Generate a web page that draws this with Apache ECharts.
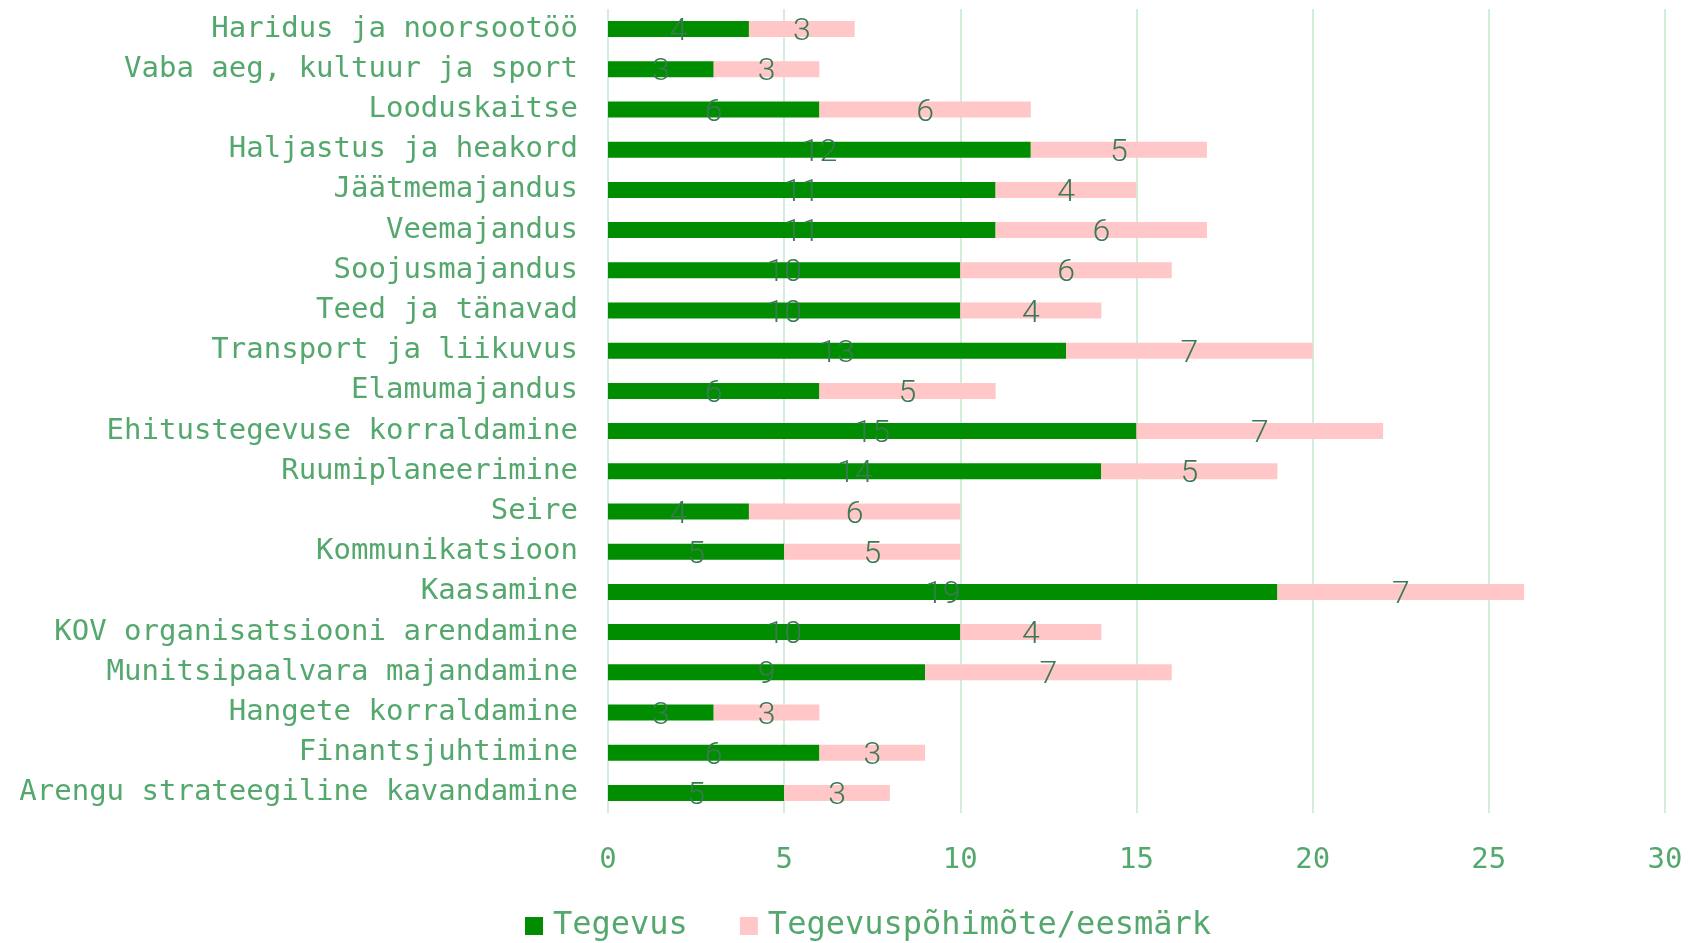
<!DOCTYPE html>
<html>
<head>
<meta charset="UTF-8">
<title>Tegevused</title>
<script src="https://cdn.jsdelivr.net/npm/echarts@6/dist/echarts.min.js"></script>
<style>
  html, body { margin: 0; padding: 0; background: #fff; }
  #chart { width: 1688px; height: 943px; }
</style>
</head>
<body>
<div id="chart"></div>
<script>
// categories listed top to bottom
const categories = [
  "Haridus ja noorsootöö",
  "Vaba aeg, kultuur ja sport",
  "Looduskaitse",
  "Haljastus ja heakord",
  "Jäätmemajandus",
  "Veemajandus",
  "Soojusmajandus",
  "Teed ja tänavad",
  "Transport ja liikuvus",
  "Elamumajandus",
  "Ehitustegevuse korraldamine",
  "Ruumiplaneerimine",
  "Seire",
  "Kommunikatsioon",
  "Kaasamine",
  "KOV organisatsiooni arendamine",
  "Munitsipaalvara majandamine",
  "Hangete korraldamine",
  "Finantsjuhtimine",
  "Arengu strateegiline kavandamine"
];
const tegevus = [4, 3, 6, 12, 11, 11, 10, 10, 13, 6, 15, 14, 4, 5, 19, 10, 9, 3, 6, 5];
const pohimote = [3, 3, 6, 5, 4, 6, 6, 4, 7, 5, 7, 5, 6, 5, 7, 4, 7, 3, 3, 3];
const seriesNames = ["Tegevus", "Tegevuspõhimõte/eesmärk"];

const labelColor = "#55a86d";
const monoFont = "'DejaVu Sans Mono', 'Liberation Mono', monospace";

const barLabel = {
  show: true,
  position: "inside",
  color: "#3b7954",
  fontFamily: "Roboto, sans-serif",
  fontWeight: 300,
  fontSize: 32,
  offset: [0, 3]
};

const chart = echarts.init(document.getElementById("chart"));
chart.setOption({
  animation: false,
  grid: { left: 608, right: 23, top: 9, bottom: 130, containLabel: false },
  legend: {
    bottom: -4,
    left: 520,
    itemWidth: 18,
    itemHeight: 18,
    itemGap: 52,
    icon: "rect",
    textStyle: { color: labelColor, fontFamily: monoFont, fontSize: 32, padding: [0, 0, 0, 5] },
    data: seriesNames
  },
  xAxis: {
    type: "value",
    min: 0,
    max: 30,
    interval: 5,
    axisLine: { show: false },
    axisTick: { show: false },
    splitLine: { lineStyle: { color: "#d2eedb", width: 2 } },
    axisLabel: { color: labelColor, fontFamily: monoFont, fontSize: 29, margin: 33 }
  },
  yAxis: {
    type: "category",
    inverse: true,
    data: categories,
    axisLine: { show: false },
    axisTick: { show: false },
    axisLabel: { color: labelColor, fontFamily: monoFont, fontSize: 29, margin: 30 }
  },
  series: [
    {
      name: seriesNames[0],
      type: "bar",
      stack: "total",
      barWidth: 16,
      itemStyle: { color: "#008e00" },
      label: barLabel,
      data: tegevus
    },
    {
      name: seriesNames[1],
      type: "bar",
      stack: "total",
      barWidth: 16,
      itemStyle: { color: "#ffc7c7" },
      label: barLabel,
      data: pohimote
    }
  ]
});
</script>
</body>
</html>
